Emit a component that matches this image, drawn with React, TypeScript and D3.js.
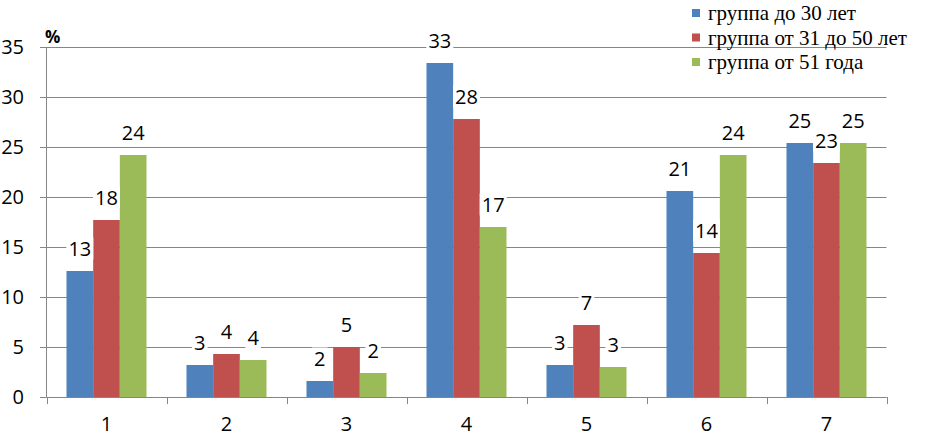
import React from "react";
import * as d3 from "d3";

const categories = ["1", "2", "3", "4", "5", "6", "7"];
const seriesNames = ["группа до 30 лет", "группа от 31 до 50 лет", "группа от 51 года"];
const blueValues = [12.6, 3.2, 1.6, 33.4, 3.2, 20.6, 25.4];
const redValues = [17.7, 4.3, 5.0, 27.8, 7.2, 14.4, 23.4];
const greenValues = [24.2, 3.7, 2.4, 17.0, 3.0, 24.2, 25.4];
const yTicks = [0, 5, 10, 15, 20, 25, 30, 35];
const colors = ["#4F81BD", "#C0504D", "#9BBB59"];

const W = 926;
const H = 437;
const left = 46.5;
const right = 886.5;
const top = 47;
const bottom = 397;
const gridColor = "#868686";
const labelFont = "'Open Sans', 'Noto Sans', sans-serif";
const legendFont = "Liberation Serif, Tinos, Times New Roman, DejaVu Serif, Noto Serif, serif";

export default function App() {
  const seriesValues = [blueValues, redValues, greenValues];
  const x = d3.scaleBand<string>().domain(categories).range([left, right]).padding(0);
  const xs = d3
    .scaleBand<number>()
    .domain([0, 1, 2])
    .range([0, x.bandwidth()])
    .paddingInner(0)
    .paddingOuter(0.75);
  const y = d3.scaleLinear().domain([0, 35]).range([bottom, top]);

  const boundaries = categories.map((c) => x(c) as number).concat([right]);

  const labels: { cx: number; top: number; text: string }[] = [];
  seriesValues.forEach((vals, s) => {
    vals.forEach((v, i) => {
      const cx = (x(categories[i]) as number) + (xs(s) as number) + xs.bandwidth() / 2;
      labels.push({ cx, top: y(v), text: String(Math.round(v)) });
    });
  });

  return (
    <svg
      width={W}
      height={H}
      style={{ position: "absolute", left: 0, top: 0, background: "#fff" }}
    >
      <rect x={0} y={0} width={W} height={H} fill="#fff" />
      {yTicks.map((t) => (
        <line
          key={"g" + t}
          x1={left}
          x2={right}
          y1={Math.round(y(t)) + 0.5}
          y2={Math.round(y(t)) + 0.5}
          stroke={gridColor}
          strokeWidth={1}
        />
      ))}
      {yTicks.map((t) => (
        <g key={"yt" + t}>
          <line
            x1={40}
            x2={left}
            y1={Math.round(y(t)) + 0.5}
            y2={Math.round(y(t)) + 0.5}
            stroke={gridColor}
          />
          <text
            x={24}
            y={y(t) + 7}
            textAnchor="end"
            fontFamily={labelFont}
            fontSize={20}
            fill="#000"
          >
            {t}
          </text>
        </g>
      ))}
      {seriesValues.map((vals, s) =>
        vals.map((v, i) => (
          <rect
            key={"b" + s + "-" + i}
            x={(x(categories[i]) as number) + (xs(s) as number)}
            y={y(v)}
            width={xs.bandwidth()}
            height={bottom - y(v)}
            fill={colors[s]}
          />
        ))
      )}
      <line x1={left} x2={left} y1={top} y2={bottom} stroke={gridColor} />
      <line x1={left} x2={right} y1={bottom + 0.5} y2={bottom + 0.5} stroke={gridColor} />
      {boundaries.map((bx, i) => (
        <line
          key={"xt" + i}
          x1={Math.round(bx) + 0.5}
          x2={Math.round(bx) + 0.5}
          y1={bottom}
          y2={bottom + 7}
          stroke={gridColor}
        />
      ))}
      {categories.map((c) => (
        <text
          key={"xl" + c}
          x={(x(c) as number) + x.bandwidth() / 2}
          y={431}
          textAnchor="middle"
          fontFamily={labelFont}
          fontSize={20}
          fill="#000"
        >
          {c}
        </text>
      ))}
      {labels.map((l, i) => {
        const baseline = l.top - 15.5;
        const w = l.text.length * 11.5 + 4;
        return (
          <g key={"dl" + i}>
            <rect x={l.cx - w / 2} y={baseline - 18} width={w} height={22} fill="#fff" />
            <text
              x={l.cx}
              y={baseline}
              textAnchor="middle"
              fontFamily={labelFont}
              fontSize={20}
              fill="#000"
            >
              {l.text}
            </text>
          </g>
        );
      })}
      <text
        x={45}
        y={43}
        fontFamily={labelFont}
        fontSize={17}
        fontWeight="bold"
        fill="#000"
      >
        %
      </text>
      {seriesNames.map((name, i) => {
        const cy = 13 + i * 24.5;
        return (
          <g key={"lg" + i}>
            <rect x={692} y={cy - 4} width={8} height={8} fill={colors[i]} />
            <text
              x={708}
              y={cy + 7}
              fontFamily={legendFont}
              fontSize={21}
              fill="#000"
            >
              {name}
            </text>
          </g>
        );
      })}
    </svg>
  );
}
